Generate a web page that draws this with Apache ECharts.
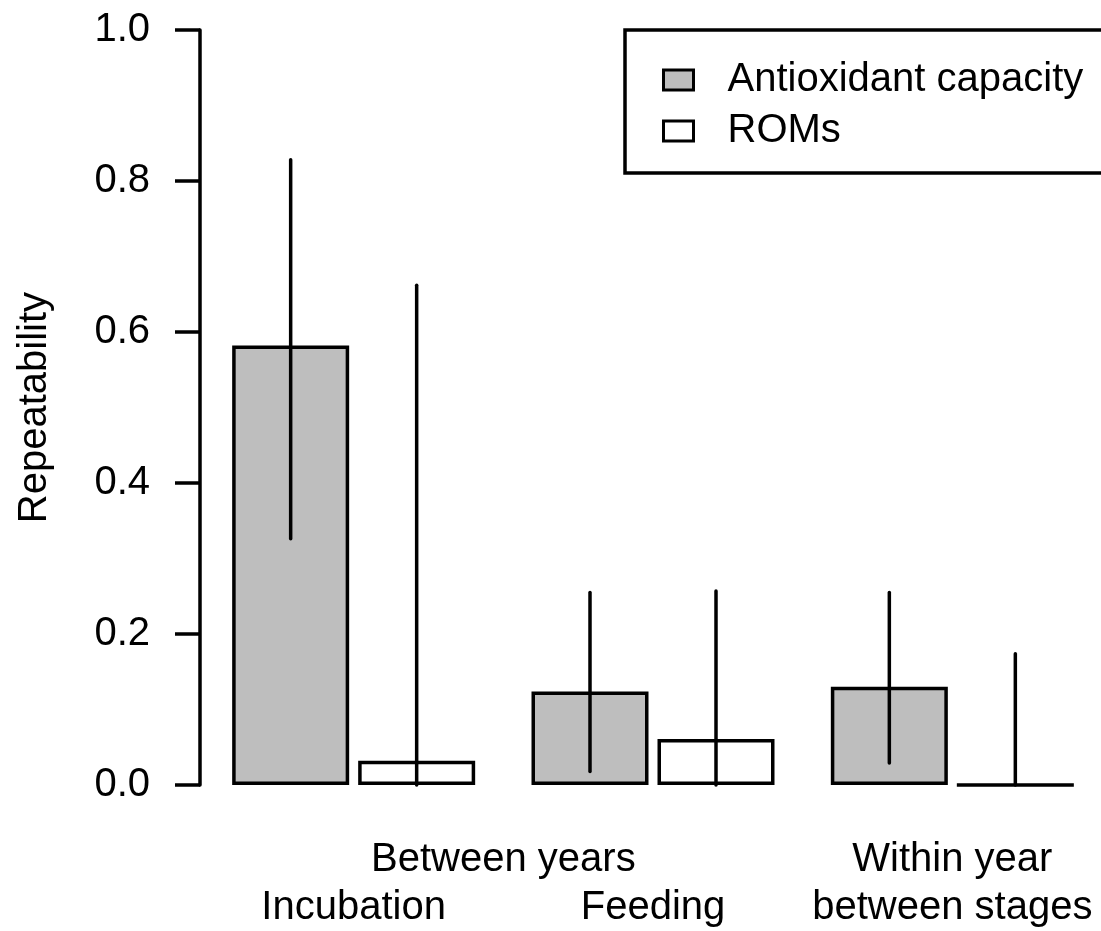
<!DOCTYPE html>
<html>
<head>
<meta charset="utf-8">
<script src="https://cdn.jsdelivr.net/npm/echarts@6/dist/echarts.min.js"></script>
<style>
html,body{margin:0;padding:0;background:#fff;}
#chart{width:1101px;height:931px;}
</style>
</head>
<body>
<div id="chart"></div>
<script>
// ---- data ----
var categoryLine1 = ['', '', 'Within year'];
var categoryLine2 = ['Incubation', 'Feeding', 'between stages'];
var groupLabel = 'Between years';
var seriesNames = ['Antioxidant capacity', 'ROMs'];
var antioxValues = [0.582, 0.124, 0.130];
var antioxLower = [0.326, 0.018, 0.029];
var antioxUpper = [0.828, 0.255, 0.255];
var romsValues = [0.032, 0.061, 0.0];
var romsLower = [0.0, 0.0, 0.0];
var romsUpper = [0.662, 0.257, 0.174];
var yTicks = [0, 0.2, 0.4, 0.6, 0.8, 1.0];

// ---- style / layout ----
var FONT = 'Liberation Sans, Arial, Helvetica, sans-serif';
var FS = 40;
var BAR_W = 117;
var BAR_GAP_PX = 9;
var HALF_STEP = (BAR_W + BAR_GAP_PX) / 2;
var LW = 3.5;

var categories = categoryLine2.map(function (c, i) { return i; });

function errData(lo, hi) {
  return lo.map(function (l, i) { return [i, l, hi[i]]; });
}
function errSeries(name, lo, hi, dx) {
  return {
    type: 'custom',
    name: name + ' CI',
    xAxisIndex: 0,
    yAxisIndex: 0,
    z: 10,
    silent: true,
    data: errData(lo, hi),
    renderItem: function (params, api) {
      var i = api.value(0);
      var p1 = api.coord([i, api.value(1)]);
      var p2 = api.coord([i, api.value(2)]);
      return {
        type: 'line',
        shape: { x1: p1[0] + dx, y1: p1[1], x2: p2[0] + dx, y2: p2[1] },
        style: { stroke: '#000', lineWidth: LW, lineCap: 'round' }
      };
    }
  };
}

var chart = echarts.init(document.getElementById('chart'), null, { renderer: 'canvas' });
var option = {
  animation: false,
  backgroundColor: '#ffffff',
  textStyle: { fontFamily: FONT, color: '#000' },
  grid: { left: 204, width: 898, top: 30, bottom: 146, containLabel: false, outerBoundsMode: 'none' },
  legend: {
    data: seriesNames,
    orient: 'vertical',
    left: 625,
    top: 30,
    align: 'left',
    padding: [30, 40, 22, 37],
    itemGap: 11,
    itemWidth: 30,
    itemHeight: 20,
    borderColor: '#000',
    borderWidth: LW,
    borderRadius: 0,
    icon: 'rect',
    itemStyle: { borderColor: '#000', borderWidth: 3 },
    textStyle: { fontFamily: FONT, fontSize: FS, color: '#000', lineHeight: 36, padding: [0, 0, 0, 29] },
    selectedMode: false
  },
  xAxis: [
    {
      type: 'category',
      data: categories,
      boundaryGap: true,
      axisLine: { show: false },
      axisTick: { show: false },
      axisLabel: {
        interval: 0,
        margin: 51,
        fontFamily: FONT,
        fontSize: FS,
        color: '#000',
        lineHeight: 48,
        verticalAlign: 'top',
        formatter: function (v, idx) {
          return categoryLine1[idx] + '\n' + categoryLine2[idx];
        }
      },
      splitLine: { show: false }
    },
    {
      type: 'value',
      position: 'bottom',
      min: -0.5,
      max: 2.5,
      interval: 0.5,
      axisLine: { show: false, onZero: false },
      axisTick: { show: false },
      splitLine: { show: false },
      axisLabel: {
        margin: 51,
        fontFamily: FONT,
        fontSize: FS,
        color: '#000',
        lineHeight: 48,
        verticalAlign: 'top',
        showMinLabel: true,
        showMaxLabel: true,
        formatter: function (v) {
          return Math.abs(v - 0.5) < 1e-9 ? groupLabel : '';
        }
      }
    }
  ],
  yAxis: {
    type: 'value',
    min: yTicks[0],
    max: yTicks[yTicks.length - 1],
    interval: 0.2,
    offset: 4,
    name: 'Repeatability',
    nameLocation: 'middle',
    nameGap: 145,
    nameTextStyle: { fontFamily: FONT, fontSize: FS, color: '#000' },
    axisLine: { show: true, onZero: false, lineStyle: { color: '#000', width: LW } },
    axisTick: { show: true, length: 25, lineStyle: { color: '#000', width: LW } },
    axisLabel: {
      margin: 50,
      fontFamily: FONT,
      fontSize: FS,
      color: '#000',
      formatter: function (v) { return v.toFixed(1); }
    },
    splitLine: { show: false }
  },
  series: [
    {
      name: seriesNames[0],
      type: 'bar',
      data: antioxValues,
      barWidth: BAR_W,
      barGap: (BAR_GAP_PX / BAR_W * 100) + '%',
      itemStyle: { color: '#BEBEBE', borderColor: '#000', borderWidth: LW },
      silent: true
    },
    {
      name: seriesNames[1],
      type: 'bar',
      data: romsValues,
      barWidth: BAR_W,
      barGap: (BAR_GAP_PX / BAR_W * 100) + '%',
      itemStyle: { color: '#FFFFFF', borderColor: '#000', borderWidth: LW },
      silent: true
    },
    errSeries(seriesNames[0], antioxLower, antioxUpper, -HALF_STEP),
    errSeries(seriesNames[1], romsLower, romsUpper, HALF_STEP)
  ]
};
chart.setOption(option);
</script>
</body>
</html>
